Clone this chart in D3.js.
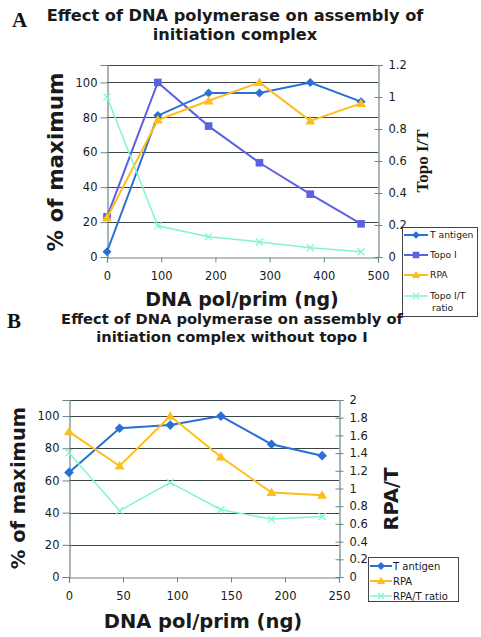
<!DOCTYPE html>
<html><head><meta charset="utf-8">
<script src="https://cdn.jsdelivr.net/npm/d3@7"></script>
<style>body{margin:0;background:#fff}svg{display:block}</style>
</head><body>
<svg id="c" width="481" height="637"></svg>
<script>
// ---------- Data: chart A ----------
const xA = [0, 93.75, 187.5, 281.25, 375, 468.75];
const tAntigenA = [3, 81, 94, 94, 100, 89];
const topoIA = [23, 100, 75, 54, 36, 19];
const rpaA = [22.5, 78.5, 89.5, 100, 78, 88];
const topoRatioA = [1.0, 0.195, 0.127, 0.094, 0.058, 0.033];
const xTicksA = [0, 100, 200, 300, 400, 500];
const yTicksA = [0, 20, 40, 60, 80, 100];
const y2TicksA = [0, 0.2, 0.4, 0.6, 0.8, 1, 1.2];
const titleA = ["Effect of DNA polymerase on assembly of", "initiation complex"];

// ---------- Data: chart B ----------
const xB = [0, 46.875, 93.75, 140.625, 187.5, 234.375];
const tAntigenB = [65, 92.4, 94.4, 100, 82.5, 75.4];
const rpaB = [90.3, 69, 100, 74.6, 52.5, 50.8];
const rpaRatioB = [1.405, 0.75, 1.067, 0.76, 0.654, 0.684];
const xTicksB = [0, 50, 100, 150, 200, 250];
const yTicksB = [0, 20, 40, 60, 80, 100];
const y2TicksB = [0, 0.2, 0.4, 0.6, 0.8, 1, 1.2, 1.4, 1.6, 1.8, 2];
const titleB = ["Effect of DNA polymerase on assembly of", "initiation complex without topo I"];

const C_T = "#2a6fd6", C_TOPO = "#5b61e3", C_RPA = "#ffbd1c", C_RATIO = "#80f5d2";
const AXIS = "#6b8588", GRID = "#3c4646";
const SANS = "'DejaVu Sans', Verdana, sans-serif";
const SERIF = "'Liberation Serif', 'Times New Roman', serif";

const svg = d3.select("#c");

function marker(g, type, x, y, color, s) {
  if (type === "diamond") {
    g.append("path").attr("d", `M${x},${y - s}L${x + s},${y}L${x},${y + s}L${x - s},${y}Z`).attr("fill", color);
  } else if (type === "square") {
    g.append("rect").attr("x", x - s).attr("y", y - s).attr("width", 2 * s).attr("height", 2 * s).attr("fill", color);
  } else if (type === "triangle") {
    g.append("path").attr("d", `M${x},${y - s * 1.1}L${x + s * 1.1},${y + s * 0.8}L${x - s * 1.1},${y + s * 0.8}Z`).attr("fill", color);
  } else if (type === "x") {
    g.append("path").attr("d", `M${x - s},${y - s}L${x + s},${y + s}M${x - s},${y + s}L${x + s},${y - s}`).attr("stroke", color).attr("stroke-width", 1.2).attr("fill", "none");
  }
}

function drawChart(cfg) {
  const g = svg.append("g");
  const x = d3.scaleLinear().domain(cfg.xDomain).range([cfg.left, cfg.right]);
  const y = d3.scaleLinear().domain([0, 110]).range([cfg.bottom, cfg.top]);
  const y2 = d3.scaleLinear().domain(cfg.y2Domain).range([cfg.bottom, cfg.top]);

  // letter
  g.append("text").attr("x", cfg.letterX).attr("y", cfg.letterY).text(cfg.letter)
    .attr("font-family", SERIF).attr("font-weight", "bold").attr("font-size", 21).attr("fill", "#111");
  // title
  cfg.title.forEach((t, i) => g.append("text").attr("x", cfg.titleX).attr("y", cfg.titleY + i * cfg.titleLH)
    .attr("text-anchor", "middle").attr("font-family", SANS).attr("font-weight", "bold")
    .attr("font-size", cfg.titleSize).attr("fill", "#1a1a1a").text(t));

  // gridlines
  g.append("g").selectAll("line").data(cfg.yTicks.filter(d => d > 0)).join("line")
    .attr("x1", cfg.left).attr("x2", cfg.right).attr("y1", d => Math.round(y(d)) + 0.5).attr("y2", d => Math.round(y(d)) + 0.5)
    .attr("stroke", GRID).attr("stroke-width", 1);
  // top border
  g.append("line").attr("x1", cfg.left).attr("x2", cfg.right).attr("y1", cfg.top + 0.5).attr("y2", cfg.top + 0.5)
    .attr("stroke", GRID);

  // left axis
  const ya = d3.axisLeft(y).tickValues(cfg.yTicks).tickSize(7).tickPadding(3);
  const yg = g.append("g").attr("transform", `translate(${cfg.left + 0.5},0)`).call(ya);
  // bottom axis
  const xa = d3.axisBottom(x).tickValues(cfg.xTicks).tickSize(5).tickPadding(cfg.xTickPad);
  const xg = g.append("g").attr("transform", `translate(0,${Math.round(cfg.bottom) + 0.5})`).call(xa);
  // right axis
  const ya2 = d3.axisRight(y2).tickValues(cfg.y2Ticks).tickSize(4).tickPadding(cfg.y2Pad).tickFormat(d3.format("~g"));
  const yg2 = g.append("g").attr("transform", `translate(${cfg.right + 0.5},0)`).call(ya2);
  yg2.selectAll(".tick line").attr("x1", -4);
  [yg, xg, yg2].forEach(a => {
    a.select(".domain").attr("stroke", AXIS).attr("stroke-width", 1.2);
    a.selectAll(".tick line").attr("stroke", AXIS);
    a.selectAll("text").attr("font-family", SANS).attr("font-size", cfg.tickSize).attr("fill", "#1a1a1a");
  });

  // series
  cfg.series.forEach(s => {
    const sc = s.axis === 2 ? y2 : y;
    const line = d3.line().x((d, i) => x(cfg.xs[i])).y(d => sc(d));
    g.append("path").datum(s.values).attr("d", line).attr("fill", "none")
      .attr("stroke", s.color).attr("stroke-width", s.width);
    const mg = g.append("g");
    s.values.forEach((v, i) => marker(mg, s.marker, x(cfg.xs[i]), sc(v), s.color, s.size));
  });

  // axis titles
  g.append("text").attr("transform", `translate(${cfg.yTitleX},${cfg.yTitleY}) rotate(-90)`)
    .attr("text-anchor", "middle").attr("font-family", SANS).attr("font-weight", "bold")
    .attr("font-size", cfg.yTitleSize).attr("fill", "#1a1a1a").text("% of maximum");
  g.append("text").attr("x", cfg.xTitleX).attr("y", cfg.xTitleY)
    .attr("text-anchor", "middle").attr("font-family", SANS).attr("font-weight", "bold")
    .attr("font-size", cfg.xTitleSize).attr("fill", "#1a1a1a").text("DNA pol/prim (ng)");
  g.append("text").attr("transform", `translate(${cfg.y2TitleX},${cfg.y2TitleY}) rotate(-90)`)
    .attr("text-anchor", "middle").attr("font-family", cfg.y2TitleFont).attr("font-weight", "bold")
    .attr("font-size", cfg.y2TitleSize).attr("fill", "#1a1a1a").text(cfg.y2Title);

  // legend
  const L = cfg.legend;
  g.append("rect").attr("x", L.x + 0.5).attr("y", L.y + 0.5).attr("width", L.w).attr("height", L.h)
    .attr("fill", "#fff").attr("stroke", "#444");
  cfg.series.forEach((s, i) => {
    const ly = L.rows[i];
    g.append("line").attr("x1", L.lx1).attr("x2", L.lx2).attr("y1", ly).attr("y2", ly)
      .attr("stroke", s.color).attr("stroke-width", s.width);
    marker(g, s.marker, (L.lx1 + L.lx2) / 2, ly, s.color, s.size * 0.85);
    const lines = s.label.split("\n");
    lines.forEach((t, j) => g.append("text").attr("x", L.tx + (j > 0 ? L.indent : 0)).attr("y", ly + j * L.lh)
      .attr("dy", "0.35em").attr("font-family", SANS).attr("font-size", L.size).attr("fill", "#1a1a1a").text(t));
  });
}

drawChart({
  letter: "A", letterX: 12, letterY: 27,
  title: titleA, titleX: 235, titleY: 21, titleLH: 18.5, titleSize: 16.2,
  left: 107, right: 378, top: 65, bottom: 257,
  xDomain: [0, 500], y2Domain: [0, 1.2], xs: xA,
  xTicks: xTicksA, yTicks: yTicksA, y2Ticks: y2TicksA, tickSize: 11.5, xTickPad: 9, y2Pad: 6,
  series: [
    {label: "T antigen", values: tAntigenA, color: C_T, marker: "diamond", size: 4.5, width: 2, axis: 1},
    {label: "Topo I", values: topoIA, color: C_TOPO, marker: "square", size: 3.8, width: 2, axis: 1},
    {label: "RPA", values: rpaA, color: C_RPA, marker: "triangle", size: 4.5, width: 2, axis: 1},
    {label: "Topo I/T\nratio", values: topoRatioA, color: C_RATIO, marker: "x", size: 3.5, width: 1.5, axis: 2}
  ],
  yTitleX: 63, yTitleY: 162, yTitleSize: 21.5,
  xTitleX: 242, xTitleY: 306, xTitleSize: 19,
  y2Title: "Topo I/T", y2TitleFont: SERIF, y2TitleSize: 17, y2TitleX: 428, y2TitleY: 161,
  legend: {x: 402, y: 227, w: 75, h: 89, lx1: 404, lx2: 428, tx: 430, indent: 2, rows: [235, 255, 275, 296], lh: 11.5, size: 9.2}
});

drawChart({
  letter: "B", letterX: 7, letterY: 328,
  title: titleB, titleX: 232, titleY: 324, titleLH: 18, titleSize: 14.7,
  left: 69, right: 339, top: 400, bottom: 577,
  xDomain: [0, 250], y2Domain: [0, 2], xs: xB,
  xTicks: xTicksB, yTicks: yTicksB, y2Ticks: y2TicksB, tickSize: 11.5, xTickPad: 9, y2Pad: 6,
  series: [
    {label: "T antigen", values: tAntigenB, color: C_T, marker: "diamond", size: 4.8, width: 2, axis: 1},
    {label: "RPA", values: rpaB, color: C_RPA, marker: "triangle", size: 4.5, width: 2, axis: 1},
    {label: "RPA/T ratio", values: rpaRatioB, color: C_RATIO, marker: "x", size: 3.5, width: 1.5, axis: 2}
  ],
  yTitleX: 25, yTitleY: 488, yTitleSize: 19.5,
  xTitleX: 203, xTitleY: 628, xTitleSize: 19.5,
  y2Title: "RPA/T", y2TitleFont: SANS, y2TitleSize: 19.5, y2TitleX: 398, y2TitleY: 499,
  legend: {x: 368, y: 557, w: 90, h: 44, lx1: 370, lx2: 392, tx: 393, indent: 0, rows: [566, 581, 596], lh: 12, size: 10}
});
</script>
</body></html>
